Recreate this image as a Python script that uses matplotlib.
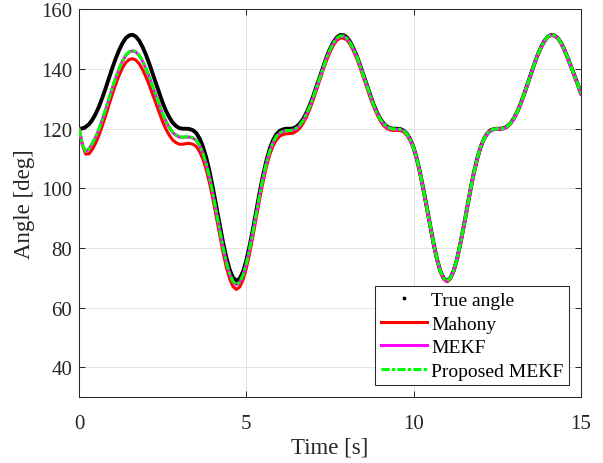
import numpy as np
import matplotlib
matplotlib.use("Agg")
import matplotlib.pyplot as plt
from matplotlib.lines import Line2D

# sample time [s], 0.1 s step
time_s = np.round(np.arange(0, 15.05, 0.1), 1)

true_angle = [
    120.0, 120.1, 120.6, 121.5, 123.0, 125.0, 127.5, 130.5, 133.7, 137.1,
    140.5, 143.6, 146.4, 148.7, 150.4, 151.3, 151.5, 150.9, 149.5, 147.4,
    144.8, 141.8, 138.5, 135.1, 131.8, 128.7, 126.0, 123.8, 122.0, 120.9,
    120.2, 120.0, 120.0, 119.9, 119.5, 118.6, 116.8, 114.1, 110.4, 105.7,
    100.2, 94.2, 88.0, 82.1, 76.9, 72.8, 70.1, 69.0, 69.7, 72.0,
    75.8, 80.8, 86.5, 92.7, 98.8, 104.4, 109.3, 113.3, 116.2, 118.2,
    119.3, 119.8, 120.0, 120.0, 120.1, 120.7, 121.7, 123.3, 125.4, 128.0,
    131.0, 134.3, 137.7, 141.0, 144.1, 146.8, 149.0, 150.6, 151.4, 151.4,
    150.7, 149.2, 147.0, 144.4, 141.3, 138.0, 134.6, 131.3, 128.2, 125.6,
    123.4, 121.8, 120.7, 120.2, 120.0, 120.0, 119.9, 119.4, 118.3, 116.4,
    113.6, 109.7, 104.8, 99.2, 93.2, 87.0, 81.2, 76.1, 72.2, 69.8,
    69.0, 70.0, 72.5, 76.5, 81.7, 87.5, 93.7, 99.7, 105.3, 110.0,
    113.8, 116.6, 118.4, 119.5, 119.9, 120.0, 120.0, 120.2, 120.8, 121.9,
    123.6, 125.8, 128.5, 131.6, 134.9, 138.2, 141.5, 144.6, 147.2, 149.3,
    150.8, 151.4, 151.3, 150.5, 148.9, 146.6, 143.9, 141.0, 138.0, 135.0, 131.8,
]

mahony_angle = [
    120.0, 114.6, 111.5, 111.6, 113.1, 115.2, 117.9, 121.1, 124.5, 128.1,
    131.7, 135.0, 137.9, 140.4, 142.2, 143.2, 143.5, 143.0, 141.8, 139.8,
    137.4, 134.6, 131.5, 128.3, 125.2, 122.3, 119.8, 117.8, 116.2, 115.3,
    114.8, 114.8, 115.0, 115.1, 114.8, 114.1, 112.4, 109.9, 106.4, 101.8,
    96.5, 90.6, 84.6, 78.8, 73.7, 69.7, 67.1, 66.1, 66.9, 69.3,
    73.2, 78.3, 84.1, 90.4, 96.6, 102.2, 107.2, 111.3, 114.3, 116.3,
    117.5, 118.1, 118.3, 118.4, 118.5, 119.2, 120.2, 121.9, 124.0, 126.7,
    129.7, 133.1, 136.5, 139.9, 143.0, 145.7, 148.0, 149.6, 150.4, 150.4,
    149.8, 148.3, 146.1, 143.5, 140.5, 137.2, 133.8, 130.5, 127.5, 124.9,
    122.7, 121.1, 120.1, 119.6, 119.4, 119.4, 119.4, 118.9, 117.8, 115.9,
    113.2, 109.3, 104.4, 98.8, 92.8, 86.7, 80.9, 75.8, 71.9, 69.5,
    68.7, 69.7, 72.3, 76.3, 81.5, 87.3, 93.5, 99.5, 105.1, 109.8,
    113.7, 116.5, 118.3, 119.4, 119.8, 119.9, 119.9, 120.1, 120.7, 121.8,
    123.5, 125.7, 128.4, 131.5, 134.8, 138.1, 141.4, 144.5, 147.1, 149.2,
    150.7, 151.3, 151.2, 150.4, 148.8, 146.5, 143.8, 140.9, 137.9, 134.9, 131.7,
]

mekf_angle = [
    120.0, 114.7, 112.3, 113.3, 115.0, 117.2, 119.9, 123.1, 126.5, 130.1,
    133.8, 137.1, 140.1, 142.7, 144.6, 145.7, 146.1, 145.7, 144.5, 142.6,
    140.2, 137.4, 134.2, 131.0, 127.9, 124.9, 122.4, 120.4, 118.7, 117.8,
    117.2, 117.1, 117.2, 117.2, 116.9, 116.1, 114.4, 111.8, 108.2, 103.6,
    98.2, 92.3, 86.2, 80.4, 75.3, 71.3, 68.7, 67.7, 68.4, 70.8,
    74.6, 79.7, 85.4, 91.7, 97.8, 103.5, 108.4, 112.4, 115.4, 117.4,
    118.5, 119.1, 119.3, 119.3, 119.5, 120.1, 121.1, 122.7, 124.9, 127.5,
    130.5, 133.8, 137.2, 140.5, 143.7, 146.4, 148.6, 150.2, 151.0, 151.0,
    150.3, 148.8, 146.7, 144.1, 141.0, 137.7, 134.3, 131.0, 127.9, 125.3,
    123.1, 121.6, 120.5, 120.0, 119.8, 119.8, 119.7, 119.2, 118.1, 116.2,
    113.4, 109.6, 104.7, 99.1, 93.1, 86.9, 81.1, 76.0, 72.1, 69.7,
    68.9, 69.9, 72.4, 76.4, 81.6, 87.4, 93.6, 99.6, 105.2, 109.9,
    113.7, 116.5, 118.3, 119.4, 119.8, 119.9, 119.9, 120.1, 120.7, 121.8,
    123.5, 125.7, 128.4, 131.5, 134.8, 138.1, 141.4, 144.5, 147.1, 149.2,
    150.7, 151.3, 151.2, 150.4, 148.8, 146.5, 143.8, 140.9, 137.9, 134.9, 131.7,
]

proposed_angle = [
    120.0, 114.8, 112.4, 113.4, 115.1, 117.3, 120.0, 123.2, 126.6, 130.2,
    133.9, 137.2, 140.2, 142.8, 144.7, 145.8, 146.2, 145.8, 144.6, 142.7,
    140.3, 137.5, 134.3, 131.1, 128.0, 125.0, 122.5, 120.5, 118.8, 117.9,
    117.3, 117.2, 117.3, 117.3, 117.0, 116.2, 114.5, 111.9, 108.3, 103.7,
    98.3, 92.4, 86.3, 80.5, 75.4, 71.4, 68.8, 67.8, 68.5, 70.9,
    74.7, 79.8, 85.5, 91.8, 97.9, 103.6, 108.5, 112.5, 115.5, 117.5,
    118.6, 119.2, 119.4, 119.4, 119.6, 120.2, 121.2, 122.8, 125.0, 127.6,
    130.6, 133.9, 137.3, 140.6, 143.8, 146.5, 148.7, 150.3, 151.1, 151.1,
    150.4, 148.9, 146.8, 144.2, 141.1, 137.8, 134.4, 131.1, 128.0, 125.4,
    123.2, 121.7, 120.6, 120.1, 119.9, 119.9, 119.8, 119.3, 118.2, 116.3,
    113.5, 109.7, 104.8, 99.2, 93.2, 87.0, 81.2, 76.1, 72.2, 69.8,
    69.0, 70.0, 72.5, 76.5, 81.7, 87.5, 93.7, 99.7, 105.3, 110.0,
    113.8, 116.6, 118.4, 119.5, 119.9, 120.0, 120.0, 120.2, 120.8, 121.9,
    123.6, 125.8, 128.5, 131.6, 134.9, 138.2, 141.5, 144.6, 147.2, 149.3,
    150.8, 151.4, 151.3, 150.5, 148.9, 146.6, 143.9, 141.0, 138.0, 135.0, 131.8,
]

x_ticks = [0, 5, 10, 15]
y_ticks = [40, 60, 80, 100, 120, 140, 160]

TEXT_COLOR = "#262626"
DASHDOT = (0, (2.7, 0.7, 1.1, 0.7))
plt.rcParams["font.family"] = ["Liberation Serif", "DejaVu Serif"]

fig = plt.figure(figsize=(6.03, 4.64), dpi=100)
ax = fig.add_axes([0.131, 0.142, 0.8325, 0.8355])

ax.plot(time_s, true_angle, color="black", lw=2.8, solid_capstyle="round", zorder=3)
ax.plot(time_s, mahony_angle, color="#ff0000", lw=2.2, zorder=4)
ax.plot(time_s, mekf_angle, color="#ff00ff", lw=2.2, zorder=5)
ax.plot(time_s, proposed_angle, color="#00ff00", lw=2.2, linestyle=DASHDOT, zorder=6)

ax.set_xlim(0, 15)
ax.set_ylim(30, 160)
ax.set_xticks(x_ticks)
ax.set_yticks(y_ticks)
ax.grid(True, color="#dedede", lw=0.6)
ax.set_axisbelow(True)

ax.tick_params(direction="in", top=True, right=True, length=4, width=0.7,
               labelsize=15, colors=TEXT_COLOR)
ax.tick_params(axis="x", pad=12)
ax.tick_params(axis="y", pad=5)
for sp in ax.spines.values():
    sp.set_color(TEXT_COLOR)
    sp.set_linewidth(0.75)

ax.set_xlabel("Time [s]", fontsize=16.5, color=TEXT_COLOR, labelpad=3)
ax.set_ylabel("Angle [deg]", fontsize=16.5, color=TEXT_COLOR, labelpad=4)

# ---- legend ----
handles = [
    Line2D([], [], color="black", marker=".", markersize=3.5, linestyle="none"),
    Line2D([], [], color="#ff0000", lw=2.2),
    Line2D([], [], color="#ff00ff", lw=2.2),
    Line2D([], [], color="#00ff00", lw=2.2, linestyle=DASHDOT),
]
labels = ["True angle", "Mahony", "MEKF", "Proposed MEKF"]
leg = ax.legend(handles, labels, loc="lower right", fontsize=14, fancybox=False,
                framealpha=1, edgecolor=TEXT_COLOR, handlelength=2.4,
                handletextpad=0.2, labelspacing=0.3, borderpad=0.3,
                borderaxespad=0.6)
leg.get_frame().set_linewidth(0.75)
for txt in leg.get_texts():
    txt.set_color("black")

fig.savefig("out.png", dpi=100)
plt.close(fig)
